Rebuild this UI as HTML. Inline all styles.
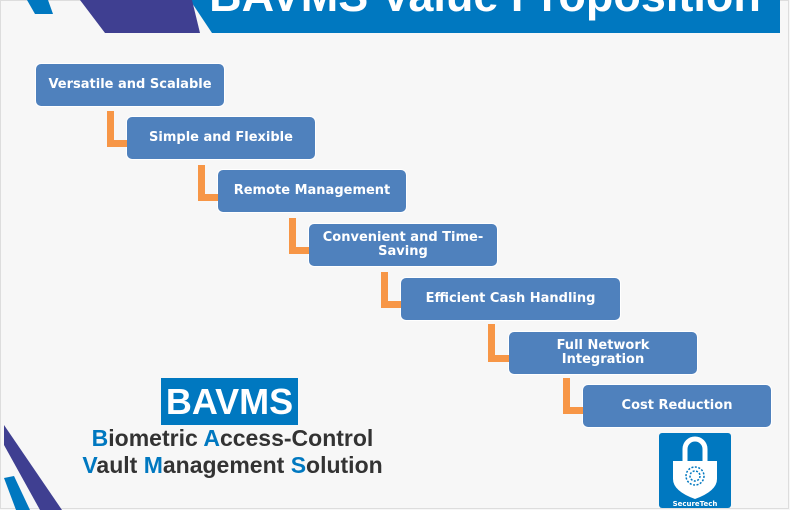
<!DOCTYPE html>
<html><head><style>
body{margin:0;width:790px;height:510px;overflow:hidden;background:#f7f7f7;position:relative;font-family:"DejaVu Sans","Liberation Sans",sans-serif}
.b{position:absolute;background:#4f81bd;border:1.5px solid #fff;border-radius:6px;color:#fff;font-weight:bold;font-size:13px;display:flex;align-items:center;justify-content:center;text-align:center;line-height:14px;box-sizing:border-box;width:190px;height:44px}
.v{position:absolute;background:#f79646;width:7px}
.h{position:absolute;background:#f79646;height:7px}
</style></head><body>
<div style="position:absolute;left:0;top:0;width:789px;height:509px;border:1px solid #ddd;box-sizing:border-box"></div>
<svg style="position:absolute;left:0;top:0" width="790" height="510">
<polygon points="205,0 780,0 780,33 212,33 190,0" fill="#0078c0"/>
<polygon points="80,0 192,0 200,33 105,33" fill="#3f3f91"/>
<polygon points="27,0 48,0 53,14 35,14" fill="#0078c0"/>
<polygon points="4,425 4,445 40,510 62,510" fill="#3f3f91"/>
<polygon points="4,478 14,476 30,510 16,510" fill="#0078c0"/>
</svg>
<div style="position:absolute;left:195px;top:-30px;width:580px;color:#fff;font:bold 45px 'Liberation Sans',sans-serif;text-align:center">BAVMS Value Proposition</div>
<div class="b" style="left:35px;top:63px">Versatile and Scalable</div>
<div class="b" style="left:126px;top:116px">Simple and Flexible</div>
<div class="b" style="left:217px;top:169px">Remote Management</div>
<div class="b" style="left:308px;top:223px">Convenient and Time-<br>Saving</div>
<div class="b" style="left:400px;top:277px;width:221px">Efficient Cash Handling</div>
<div class="b" style="left:508px;top:331px">Full Network<br>Integration</div>
<div class="b" style="left:582px;top:384px">Cost Reduction</div>
<div class="v" style="left:107px;top:111px;height:36px"></div><div class="h" style="left:107px;top:140px;width:20px"></div>
<div class="v" style="left:198px;top:165px;height:36px"></div><div class="h" style="left:198px;top:194px;width:20px"></div>
<div class="v" style="left:289px;top:218px;height:36px"></div><div class="h" style="left:289px;top:247px;width:20px"></div>
<div class="v" style="left:381px;top:272px;height:36px"></div><div class="h" style="left:381px;top:301px;width:20px"></div>
<div class="v" style="left:488px;top:324px;height:38px"></div><div class="h" style="left:488px;top:355px;width:21px"></div>
<div class="v" style="left:563px;top:378px;height:36px"></div><div class="h" style="left:563px;top:407px;width:20px"></div>
<div style="position:absolute;left:161px;top:378px;width:137px;height:47px;background:#0078c0;color:#fff;font:bold 36px 'Liberation Sans',sans-serif;text-align:center;line-height:48px">BAVMS</div>
<div style="position:absolute;left:40px;top:425px;width:385px;text-align:center;font:bold 23px/27px 'Liberation Sans',sans-serif;color:#333"><span style="color:#0078c0">B</span>iometric <span style="color:#0078c0">A</span>ccess-Control<br><span style="color:#0078c0">V</span>ault <span style="color:#0078c0">M</span>anagement <span style="color:#0078c0">S</span>olution</div>
<svg style="position:absolute;left:659px;top:433px" width="72" height="75">
<rect width="72" height="75" rx="3" fill="#0078c0"/>
<path d="M26,28 V16 a10,10 0 0 1 20,0 V28" fill="none" stroke="#fff" stroke-width="5"/>
<path d="M14,28 H58 V46 Q58,58 36,66 Q14,58 14,46 Z" fill="#fff"/>
<circle cx="36" cy="43" r="9" fill="none" stroke="#0078c0" stroke-width="1.5" stroke-dasharray="2 1.5"/>
<circle cx="36" cy="43" r="5" fill="none" stroke="#0078c0" stroke-width="1.5" stroke-dasharray="2 1.5"/>
<text x="36" y="73" font-size="7" fill="#fff" text-anchor="middle" font-family="DejaVu Sans" font-weight="bold">SecureTech</text>
</svg>
</body></html>
